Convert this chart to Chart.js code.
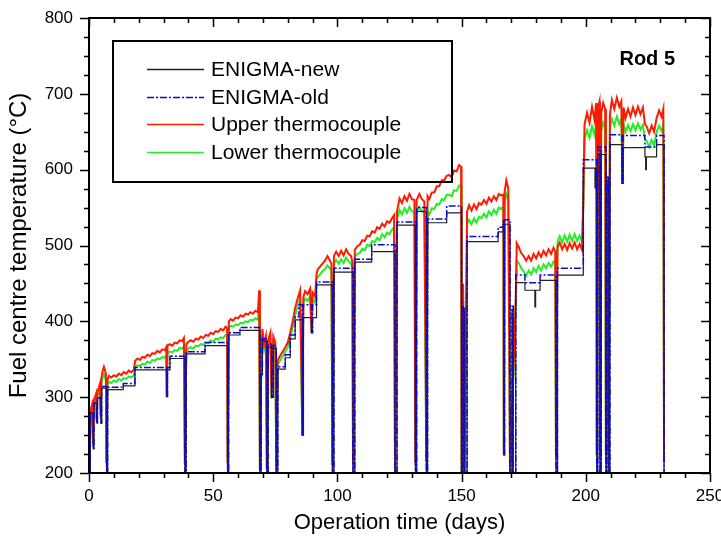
<!DOCTYPE html>
<html>
<head>
<meta charset="utf-8">
<script src="https://cdn.jsdelivr.net/npm/chart.js@4.4.1/dist/chart.umd.min.js"></script>
<style>
  html, body { margin: 0; padding: 0; background: #fff; }
  #wrap { width: 721px; height: 541px; position: relative; }
</style>
</head>
<body>
<div id="wrap"><canvas id="chart" width="721" height="541"></canvas></div>
<script>
// [day, temperature]
const enigmaNew = [
  [0,200],[0.5,279],[1.7,232],[2.0,292],[3.1,266],[3.4,299],[4.8,266],[5.1,312],[7.1,200],[7.5,310],
  [13.8,315],[18.5,336],[31.3,301],[31.6,336],[32.6,351],[38.6,200],[39.1,357],[46.7,368],[55.8,200],[56.2,382],
  [60.8,388],[68.8,200],[69.3,330],[69.8,374],[71.6,200],[72.1,366],[73.5,300],[74.2,364],[75.4,200],[76.0,337],
  [79,352],[81,377],[83,402],[85.9,250],[86.3,405],[89.6,385],[90.0,405],[91.6,448],[98.0,200],[98.6,465],
  [106.3,200],[107.0,478],[113.8,492],[123.2,200],[124.0,527],[131.4,200],[131.9,545],[135.8,200],[136.3,530],[144,543],
  [150,200],[150.6,415],[151.2,200],[152.2,505],[164.7,518],[166.8,528],[167.0,224],[167.3,528],[169.5,200],[170.3,415],
  [170.8,200],[171.8,451],[175.5,441],[179.5,419],[179.8,441],[181.6,454],[188,200],[188.6,461],[199,602],[203.7,576],
  [204.0,602],[204.4,200],[204.8,620],[205.7,200],[206.2,620],[208.1,200],[208.5,585],[209.2,200],[209.7,633],[214.6,582],
  [215.0,629],[223.8,617],[224.1,600],[224.4,617],[228.5,633],[231.5,200]
];

const enigmaOld = [
  [0,200],[0.5,279],[1.7,232],[2.0,292],[3.1,266],[3.4,299],[4.8,266],[5.1,314],[7.1,200],[7.5,313],
  [13.8,318],[18.5,339],[31.3,301],[31.6,339],[32.6,354],[38.6,200],[39.1,360],[46.7,372],[55.8,200],[56.2,385],
  [60.8,392],[68.8,200],[69.3,330],[69.8,377],[71.6,200],[72.1,370],[73.5,300],[74.2,368],[75.4,200],[76.0,340],
  [79,356],[81,382],[83,406],[84.5,422],[85.9,250],[86.3,422],[89.6,385],[90.0,422],[91.6,452],[98.0,200],
  [98.6,470],[106.3,200],[107.0,482],[113.8,501],[123.2,200],[124.0,531],[131.4,200],[131.9,550],[135.8,200],[136.3,535],
  [144,552],[150,200],[150.6,420],[151.2,200],[152.2,512],[164.7,524],[166.8,534],[167.0,224],[167.3,534],[169.5,200],
  [170.3,420],[170.8,200],[171.8,461],[175.5,451],[181.6,461],[188,200],[188.6,470],[199,613],[204.4,200],[204.8,630],
  [205.7,200],[206.2,630],[208.1,200],[208.5,590],[209.2,200],[209.7,646],[214.6,582],[215.0,645],[223.8,630],[228.5,645],
  [231.5,200]
];

const upperTC = [
  [0,205],[0.4,260],[0.8,285],[1.2,290],[1.6,240],[1.9,295],[2.4,300],[2.9,305],[3.1,270],[3.4,308],
  [3.9,312],[4.4,318],[4.7,275],[5.0,325],[5.5,335],[6.0,340],[6.4,336],[6.8,330],[7.0,214],[7.4,322],
  [8,328],[9,326],[10,329],[11,327],[12,331],[13,329],[14,333],[15,331],[16,335],[17,333],
  [18,336],[18.6,348],[19.5,351],[20.5,349],[21.5,353],[22.5,352],[23.5,356],[24.5,354],[25.5,358],[26.5,357],
  [27.5,361],[28.5,359],[29.5,363],[30.5,362],[31.1,366],[31.3,300],[31.6,368],[32.5,370],[33.5,368],[34.5,372],
  [35.5,371],[36.5,375],[37.5,374],[38.2,378],[38.6,212],[39.2,370],[40,373],[41,375],[42,373],[43,377],
  [44,376],[45,380],[46,378],[47,382],[48,381],[49,385],[50,383],[51,387],[52,386],[53,390],
  [54,388],[55,393],[55.6,391],[55.8,213],[56.3,400],[57,403],[58,401],[59,405],[60,404],[61,408],
  [62,406],[63,410],[64,409],[65,412],[66,410],[67,414],[68,412],[68.5,441],[68.8,205],[69.3,330],
  [69.8,390],[70.5,370],[71.2,380],[71.6,205],[72.1,375],[73,385],[73.5,300],[74.2,380],[75,372],[75.4,205],
  [76,349],[77,355],[78,360],[79,366],[80,372],[81,385],[82,400],[83,418],[84,430],[85,441],
  [85.9,250],[86.3,432],[87,440],[88,436],[89,443],[89.6,385],[90,438],[91,433],[91.6,462],[92,468],
  [93,472],[94,476],[95,480],[96,486],[97,480],[97.6,476],[98,210],[98.6,486],[99.5,492],[100.5,486],
  [101.5,493],[102.5,487],[103.5,495],[104.5,489],[105.5,486],[106,478],[106.3,210],[107,494],[108,499],[109,501],
  [110,507],[111,506],[112,513],[113,512],[114,519],[115,517],[116,524],[117,522],[118,529],[119,525],
  [120,532],[121,530],[122,536],[122.8,540],[123.2,200],[124,545],[125,562],[126,556],[127,565],[128,559],
  [129,568],[130,561],[131,560],[131.4,215],[131.9,560],[133,568],[134,561],[135,558],[135.8,215],[136.3,565],
  [137,561],[138,570],[139,570],[140,578],[141,578],[142,586],[143,586],[144,592],[145,593],[146,590],
  [147,599],[148,598],[149,606],[149.8,604],[150,200],[150.6,450],[151.2,200],[152.2,545],[153,553],[154,546],
  [155,554],[156,548],[157,556],[158,554],[159,560],[160,555],[161,563],[162,558],[163,565],[164,560],
  [165,568],[166,566],[166.8,567],[167,224],[167.3,570],[168,586],[168.8,575],[169.5,200],[171.8,430],[172.2,503],
  [173,498],[174,490],[175,486],[176,480],[177,486],[178,480],[179,489],[180,483],[181,491],[182,485],
  [183,493],[184,487],[185,495],[186,489],[187,497],[187.7,492],[188,220],[188.6,498],[189.5,504],[190.5,495],
  [191.5,502],[192.5,494],[193.5,503],[194.5,496],[195.5,504],[196.5,495],[197.5,502],[198.5,494],[199,560],[199.5,660],
  [200.5,675],[201.5,662],[202.5,683],[203.5,666],[204.2,688],[204.4,224],[204.8,680],[205.5,690],[205.7,224],[206.2,675],
  [207,688],[207.8,680],[208.1,224],[208.5,591],[209.2,224],[209.7,672],[210.5,692],[211.5,680],[212.5,695],[213.5,683],
  [214.3,690],[214.8,582],[215.2,682],[216,668],[217,680],[218,670],[219,682],[220,672],[221,683],[222,673],
  [223,682],[223.8,660],[224.5,657],[225.5,648],[226.5,658],[227.5,650],[228.5,668],[229.5,678],[230.5,670],[231.2,680],
  [231.5,215]
];

const lowerTC = [
  [0,205],[0.4,255],[0.8,280],[1.2,285],[1.6,238],[1.9,290],[2.4,295],[2.9,300],[3.1,268],[3.4,303],
  [3.9,307],[4.4,312],[4.7,272],[5.0,318],[5.5,326],[6.0,330],[6.4,327],[6.8,322],[7.0,214],[7.4,316],
  [8,320],[9,319],[10,322],[11,320],[12,324],[13,322],[14,325],[15,324],[16,327],[17,326],
  [18,328],[18.6,340],[19.5,342],[20.5,341],[21.5,344],[22.5,343],[23.5,347],[24.5,345],[25.5,349],[26.5,348],
  [27.5,351],[28.5,350],[29.5,353],[30.5,352],[31.1,355],[31.3,300],[31.6,358],[32.5,360],[33.5,359],[34.5,362],
  [35.5,361],[36.5,365],[37.5,364],[38.2,367],[38.6,212],[39.2,362],[40,364],[41,366],[42,364],[43,368],
  [44,367],[45,370],[46,369],[47,372],[48,371],[49,375],[50,373],[51,377],[52,376],[53,379],
  [54,378],[55,382],[55.6,380],[55.8,213],[56.3,392],[57,394],[58,393],[59,396],[60,395],[61,398],
  [62,397],[63,400],[64,399],[65,402],[66,401],[67,404],[68,402],[68.5,425],[68.8,205],[69.3,325],
  [69.8,382],[70.5,362],[71.2,372],[71.6,205],[72.1,368],[73,376],[73.5,298],[74.2,372],[75,366],[75.4,205],
  [76,343],[77,349],[78,354],[79,360],[80,366],[81,378],[82,392],[83,408],[84,420],[85,430],
  [85.9,250],[86.3,424],[87,430],[88,427],[89,433],[89.6,385],[90,429],[91,425],[91.6,455],[92,458],
  [93,462],[94,466],[95,469],[96,474],[97,470],[97.6,466],[98,210],[98.6,476],[99.5,481],[100.5,476],
  [101.5,482],[102.5,477],[103.5,484],[104.5,479],[105.5,476],[106,470],[106.3,210],[107,485],[108,489],[109,490],
  [110,496],[111,494],[112,501],[113,499],[114,506],[115,504],[116,510],[117,507],[118,515],[119,511],
  [120,517],[121,515],[122,521],[122.8,524],[123.2,200],[124,535],[125,547],[126,541],[127,549],[128,543],
  [129,551],[130,545],[131,544],[131.4,215],[131.9,545],[133,551],[134,545],[135,543],[135.8,215],[136.3,545],
  [137,541],[138,549],[139,548],[140,555],[141,554],[142,561],[143,560],[144,567],[145,567],[146,565],
  [147,573],[148,572],[149,579],[149.8,578],[150,200],[150.6,445],[151.2,200],[152.2,528],[153,534],[154,528],
  [155,536],[156,530],[157,538],[158,536],[159,542],[160,537],[161,545],[162,540],[163,547],[164,542],
  [165,550],[166,548],[166.8,552],[167,224],[167.3,555],[168,568],[168.8,560],[169.5,200],[171.8,420],[172.2,480],
  [173,477],[174,470],[175,466],[176,460],[177,467],[178,462],[179,470],[180,465],[181,473],[182,467],
  [183,475],[184,470],[185,477],[186,472],[187,479],[187.7,476],[188,220],[188.6,505],[189.5,512],[190.5,504],
  [191.5,513],[192.5,505],[193.5,514],[194.5,506],[195.5,515],[196.5,506],[197.5,513],[198.5,505],[199,550],[199.5,640],
  [200.5,652],[201.5,642],[202.5,657],[203.5,646],[204.2,662],[204.4,224],[204.8,655],[205.5,664],[205.7,224],[206.2,650],
  [207,662],[207.8,655],[208.1,224],[208.5,585],[209.2,224],[209.7,655],[210.5,667],[211.5,658],[212.5,670],[213.5,660],
  [214.3,667],[214.8,582],[215.2,660],[216,650],[217,659],[218,651],[219,660],[220,652],[221,661],[222,653],
  [223,659],[223.8,640],[224.5,638],[225.5,630],[226.5,639],[227.5,632],[228.5,650],[229.5,658],[230.5,651],[231.2,659],
  [231.5,215]
];

const seriesLabels = ['ENIGMA-new', 'ENIGMA-old', 'Upper thermocouple', 'Lower thermocouple'];
const xTickValues = [0, 50, 100, 150, 200, 250];
const yTickValues = [200, 300, 400, 500, 600, 700, 800];
const panelLabel = 'Rod 5';

const FONT = "'Liberation Sans', Arial, sans-serif";

function toPoints(rows) {
  return rows.map(r => ({ x: r[0], y: r[1] }));
}

// frame, minor/major ticks, legend box and rod label
const decorations = {
  id: 'decorations',
  afterDraw(chart) {
    const ctx = chart.ctx;
    const a = chart.chartArea;
    const xs = chart.scales.x, ys = chart.scales.y;
    ctx.save();
    ctx.strokeStyle = '#000';
    ctx.lineWidth = 2;
    ctx.strokeRect(a.left, a.top, a.right - a.left, a.bottom - a.top);

    ctx.lineWidth = 1.5;
    ctx.beginPath();
    for (let d = 0; d <= 250; d += 10) {
      const px = Math.round(xs.getPixelForValue(d)) + 0.5;
      const len = d % 50 === 0 ? 9 : 5;
      ctx.moveTo(px, a.bottom); ctx.lineTo(px, a.bottom + len);
      ctx.moveTo(px, a.top); ctx.lineTo(px, a.top + len);
    }
    for (let t = 200; t <= 800; t += 25) {
      const py = Math.round(ys.getPixelForValue(t)) + 0.5;
      const len = t % 100 === 0 ? 9 : 5;
      ctx.moveTo(a.left, py); ctx.lineTo(a.left - len, py);
      ctx.moveTo(a.right, py); ctx.lineTo(a.right - len, py);
    }
    ctx.stroke();

    // legend
    const box = { x: 113, y: 41, w: 339, h: 141 };
    ctx.lineWidth = 2;
    ctx.strokeRect(box.x, box.y, box.w, box.h);
    ctx.font = '21px ' + FONT;
    ctx.textBaseline = 'middle';
    ctx.fillStyle = '#000';
    const rowY = [69, 97, 124, 152];
    [0, 1, 2, 3].forEach((i, k) => {
      const ds = chart.data.datasets[i];
      ctx.save();
      ctx.strokeStyle = ds.borderColor;
      ctx.lineWidth = 1.3;
      ctx.setLineDash(ds.borderDash || []);
      ctx.beginPath();
      ctx.moveTo(147, rowY[k] + 0.5);
      ctx.lineTo(204, rowY[k] + 0.5);
      ctx.stroke();
      ctx.restore();
      ctx.fillText(ds.label, 211, rowY[k] + 1);
    });

    ctx.font = 'bold 20px ' + FONT;
    ctx.textAlign = 'right';
    ctx.textBaseline = 'alphabetic';
    ctx.fillText(panelLabel, 675, 65);
    ctx.restore();
  }
};

new Chart(document.getElementById('chart'), {
  type: 'line',
  data: {
    datasets: [
      { label: seriesLabels[0], data: toPoints(enigmaNew), borderColor: '#222', borderWidth: 1.2, stepped: true, order: 1 },
      { label: seriesLabels[1], data: toPoints(enigmaOld), borderColor: '#0a0ad8', borderWidth: 1.5, borderDash: [7, 2, 2, 2], stepped: true, order: 0 },
      { label: seriesLabels[2], data: toPoints(upperTC), borderColor: '#ff1a00', borderWidth: 2, order: 2 },
      { label: seriesLabels[3], data: toPoints(lowerTC), borderColor: '#22ee22', borderWidth: 2, order: 3 }
    ]
  },
  options: {
    responsive: false,
    animation: false,
    elements: { point: { radius: 0 }, line: { tension: 0 } },
    layout: { padding: { left: 0, right: 11, top: 18, bottom: 0 } },
    plugins: { legend: { display: false }, tooltip: { enabled: false } },
    scales: {
      x: {
        type: 'linear', min: 0, max: 250,
        afterBuildTicks: s => { s.ticks = xTickValues.map(v => ({ value: v })); },
        afterFit: s => { s.height = 68; s.paddingLeft = 0; s.paddingRight = 0; },
        grid: { display: false, drawTicks: false },
        border: { display: false },
        ticks: { font: { size: 17, family: FONT }, color: '#000', padding: 13, maxRotation: 0, autoSkip: false },
        title: { display: true, text: 'Operation time (days)', font: { size: 22, family: FONT }, color: '#000', padding: { top: 0, bottom: 5 } }
      },
      y: {
        type: 'linear', min: 200, max: 800,
        afterBuildTicks: s => { s.ticks = yTickValues.map(v => ({ value: v })); },
        afterFit: s => { s.width = 89; s.paddingTop = 0; s.paddingBottom = 0; },
        grid: { display: false, drawTicks: false },
        border: { display: false },
        ticks: { font: { size: 17, family: FONT }, color: '#000', padding: 16, autoSkip: false },
        title: { display: true, text: 'Fuel centre temperature (°C)', font: { size: 24, family: FONT }, color: '#000', padding: { top: 5, bottom: 0 } }
      }
    }
  },
  plugins: [decorations]
});
</script>
</body>
</html>
